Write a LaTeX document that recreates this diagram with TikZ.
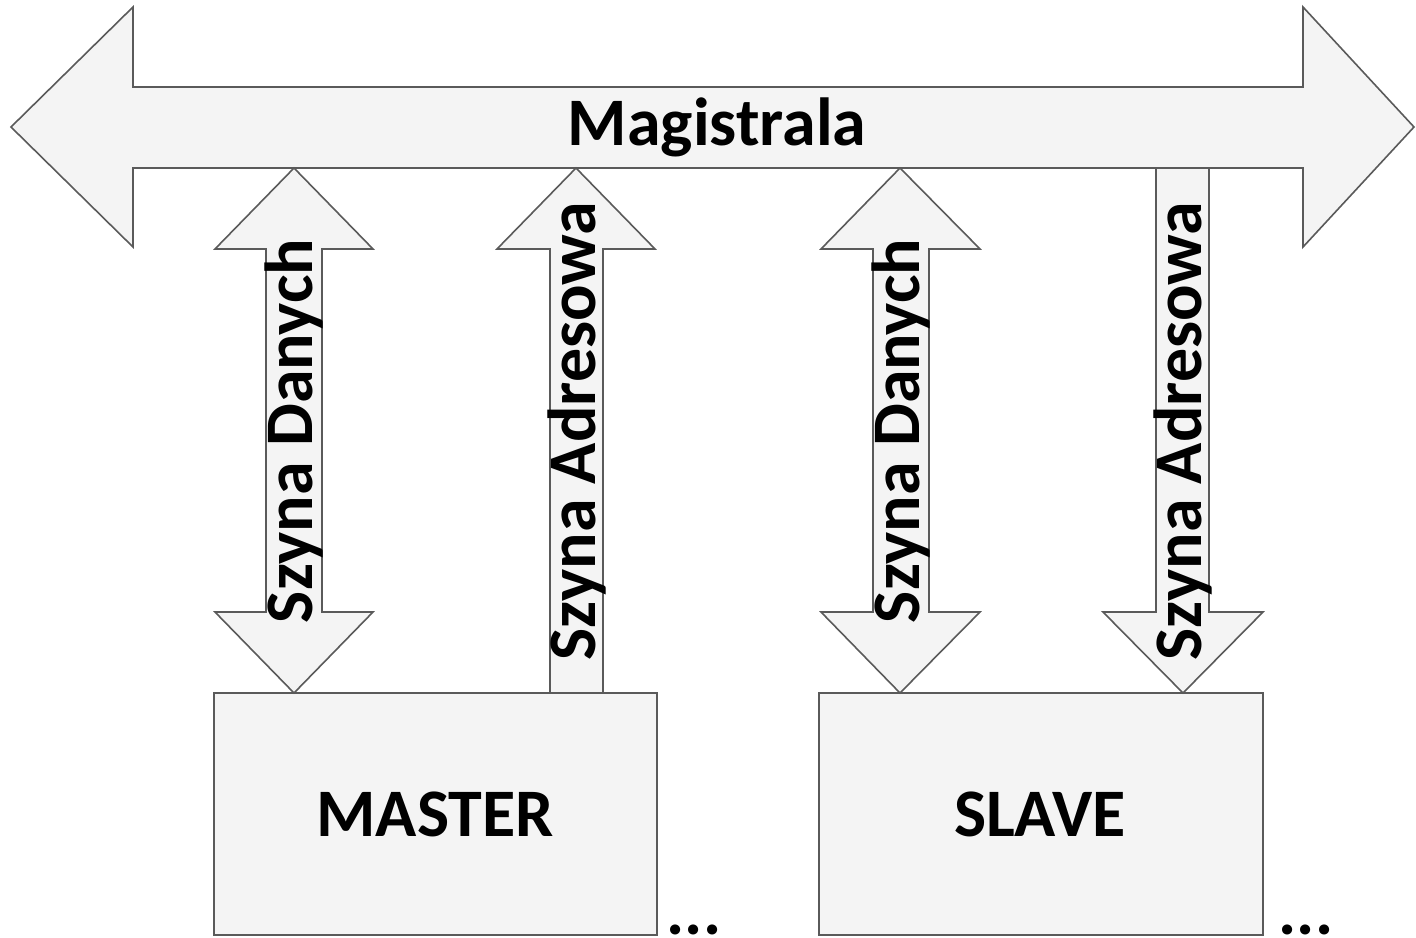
\documentclass[tikz,border=0pt]{standalone}
\usepackage{fontspec}
\setmainfont{Carlito}
\definecolor{edgegray}{RGB}{90,90,90}
\definecolor{fillgray}{RGB}{244,244,244}
\begin{document}
\begin{tikzpicture}[x=1pt,y=-1pt,
  blockshape/.style={draw=edgegray, line width=1.6pt, fill=fillgray, line join=miter},
  lbl/.style={font=\bfseries\fontsize{68}{72}\selectfont, inner sep=0pt},
  vlbl/.style={lbl, rotate=90}]
\useasboundingbox (0,0) rectangle (1416,937);
% main bus arrow
\draw[blockshape] (11,127) -- (133,7) -- (133,87) -- (1303,87) -- (1303,7) -- (1414,127)
  -- (1303,247) -- (1303,168) -- (133,168) -- (133,247) -- cycle;
\node[lbl] (bus) at (717,127) {Magistrala};
% boxes
\draw[blockshape] (214,693) rectangle (657,935);
\node[lbl] (master) at (435,814) {MASTER};
\draw[blockshape] (819,693) rectangle (1263,935);
\node[lbl] (slave) at (1040,814) {SLAVE};
% arrow 1: master data (double)
\draw[blockshape] (294,168) -- (373,249) -- (322,249) -- (322,612) -- (373,612) -- (294,693)
  -- (215,612) -- (266,612) -- (266,249) -- (215,249) -- cycle;
\node[vlbl] (md) at (294,431) {Szyna Danych};
% arrow 2: master address (up)
\draw[blockshape] (576,168) -- (655,249) -- (603,249) -- (603,693) -- (550,693) -- (550,249)
  -- (497,249) -- cycle;
\node[vlbl] (ma) at (577,431) {Szyna Adresowa};
% arrow 3: slave data (double)
\draw[blockshape] (900,168) -- (980,249) -- (929,249) -- (929,612) -- (980,612) -- (900,693)
  -- (821,612) -- (873,612) -- (873,249) -- (821,249) -- cycle;
\node[vlbl] (sd) at (901,431) {Szyna Danych};
% arrow 4: slave address (down)
\draw[blockshape] (1156,168) -- (1209,168) -- (1209,612) -- (1263,612) -- (1183,693)
  -- (1103,612) -- (1156,612) -- cycle;
\node[vlbl] (sa) at (1183,431) {Szyna Adresowa};
% ellipses
\node[lbl, anchor=base, text depth=0pt, text height=10pt] (dots1) at (694,934) {...};
\node[lbl, anchor=base, text depth=0pt, text height=10pt] (dots2) at (1306,934) {...};
\end{tikzpicture}
\end{document}
